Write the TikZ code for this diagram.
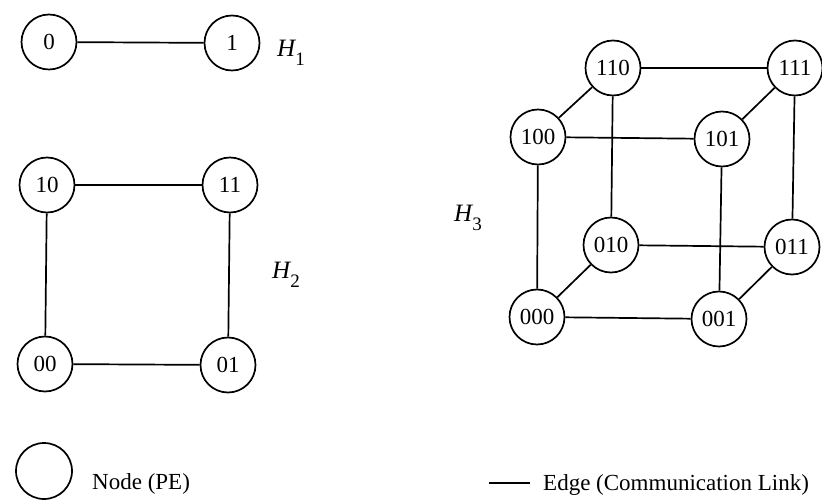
\documentclass[tikz,border=0pt]{standalone}
\usepackage{fontspec}
\setmainfont{Liberation Serif}
\newcommand{\hlabel}[1]{{\fontsize{25}{28}\selectfont\itshape H}\raisebox{-9pt}{\fontsize{19}{22}\selectfont #1}}
\begin{document}
\begin{tikzpicture}[x=1pt,y=-1pt,
  pe/.style={draw,circle,line width=1.7pt,minimum size=55pt,inner sep=0pt,font=\fontsize{23}{26}\selectfont},
  link/.style={line width=1.7pt},
  hlab/.style={anchor=base west,inner sep=0pt},
  legtext/.style={anchor=base west,inner sep=0pt,font=\fontsize{23}{26}\selectfont}]
\useasboundingbox (0,0) rectangle (822,502);
% H1
\node[pe] (n0) at (49,42) {0};
\node[pe] (n1) at (232,43) {1};
\draw[link] (n0) -- (n1);
\node[hlab] (h1) at (277,57) {\hlabel{1}};
% H2
\node[pe] (n10) at (47,185) {10};
\node[pe] (n11) at (230,185) {11};
\node[pe] (n00) at (45,364) {00};
\node[pe] (n01) at (228,365) {01};
\draw[link] (n10) -- (n11);
\draw[link] (n00) -- (n01);
\draw[link] (n10) -- (n00);
\draw[link] (n11) -- (n01);
\node[hlab] (h2) at (272,279) {\hlabel{2}};
% H3
\node[pe] (c110) at (613,68) {110};
\node[pe] (c111) at (795,68) {111};
\node[pe] (c100) at (538,137) {100};
\node[pe] (c101) at (722,139) {101};
\node[pe] (c010) at (611,245) {010};
\node[pe] (c011) at (792,247) {011};
\node[pe] (c000) at (537,317) {000};
\node[pe] (c001) at (719,319) {001};
\draw[link] (c110) -- (c111);
\draw[link] (c110) -- (c100);
\draw[link] (c110) -- (c010);
\draw[link] (c111) -- (c101);
\draw[link] (c111) -- (c011);
\draw[link] (c100) -- (c101);
\draw[link] (c100) -- (c000);
\draw[link] (c101) -- (c001);
\draw[link] (c010) -- (c011);
\draw[link] (c010) -- (c000);
\draw[link] (c011) -- (c001);
\draw[link] (c000) -- (c001);
\node[hlab] (h3) at (454,222) {\hlabel{3}};
% legend
\node[pe,minimum size=56pt] (lnode) at (44,471) {};
\node[legtext] (ltext) at (92,489) {Node (PE)};
\coordinate (la) at (489,483);
\coordinate (lb) at (530,483);
\draw[link] (la) -- (lb);
\node[legtext] (etext) at (543,490) {Edge (Communication Link)};
\end{tikzpicture}
\end{document}
